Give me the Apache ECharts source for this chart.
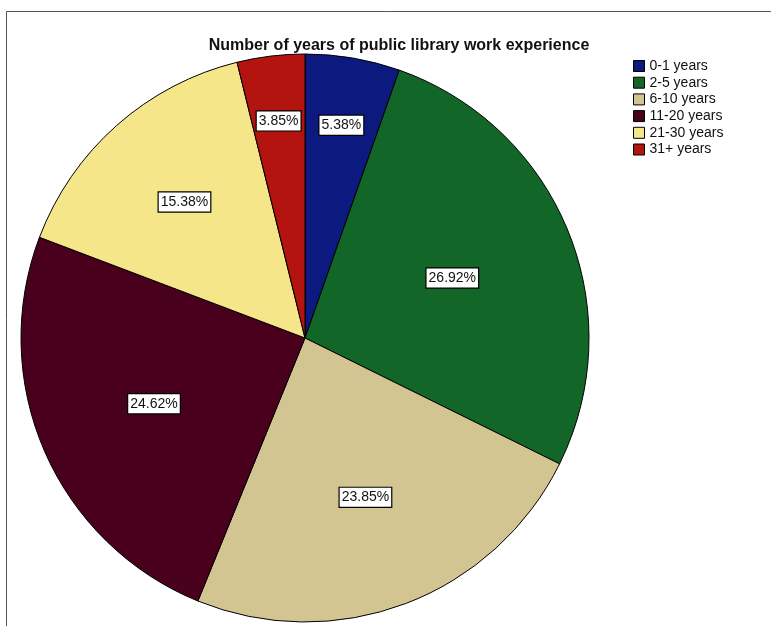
<!DOCTYPE html>
<html>
<head>
<meta charset="utf-8">
<script src="https://cdn.jsdelivr.net/npm/echarts@6/dist/echarts.min.js"></script>
<style>
html,body{margin:0;padding:0;background:#fff;}
#chart{width:771px;height:626px;}
</style>
</head>
<body>
<div id="chart"></div>
<script>
// ---- data ----
var titleText = 'Number of years of public library work experience';
var categories = ['0-1 years', '2-5 years', '6-10 years', '11-20 years', '21-30 years', '31+ years'];
var counts = [7, 35, 31, 32, 20, 5];
var percentLabels = ['5.38%', '26.92%', '23.85%', '24.62%', '15.38%', '3.85%'];

// ---- styling / layout ----
var colors = ['#0c1a80', '#116628', '#d3c592', '#48001c', '#f6e68a', '#b3140f'];
var cx = 305, cy = 338, R = 284;
var labelRadiusFactor = [0.76, 0.56, 0.60, 0.58, 0.64, 0.77];

var total = counts.reduce(function (a, b) { return a + b; }, 0);
var midAngles = [];
(function () {
  var cum = 0;
  for (var i = 0; i < counts.length; i++) {
    midAngles.push((cum + counts[i] / 2) / total * 2 * Math.PI);
    cum += counts[i];
  }
})();

var chart = echarts.init(document.getElementById('chart'), null, {renderer: 'canvas'});
var option = {
  animation: false,
  backgroundColor: '#ffffff',
  title: {
    text: titleText,
    left: 394,
    textAlign: 'center',
    top: 33,
    textStyle: {fontFamily: 'Liberation Sans, Arial, sans-serif', fontSize: 16, fontWeight: 'bold', color: '#111'}
  },
  legend: {
    orient: 'vertical',
    left: 628,
    top: 54,
    itemWidth: 11,
    itemHeight: 11,
    itemGap: 2.7,
    icon: 'rect',
    data: categories,
    textStyle: {fontFamily: 'Liberation Sans, Arial, sans-serif', fontSize: 14, lineHeight: 14, color: '#111'},
    itemStyle: {borderColor: '#000', borderWidth: 1}
  },
  graphic: [{
    type: 'rect',
    shape: {x: 6.5, y: 11.5, width: 900, height: 800},
    style: {fill: 'none', stroke: '#555', lineWidth: 1},
    silent: true
  }],
  series: [{
    type: 'pie',
    center: [cx, cy],
    radius: [0, R],
    startAngle: 90,
    clockwise: true,
    silent: true,
    data: categories.map(function (c, i) {
      return {name: c, value: counts[i], itemStyle: {color: colors[i]}};
    }),
    itemStyle: {borderColor: '#000', borderWidth: 1},
    label: {
      show: true,
      position: 'inside',
      formatter: function (p) { return percentLabels[p.dataIndex]; },
      fontFamily: 'Liberation Sans, Arial, sans-serif',
      fontSize: 14,
      color: '#111',
      backgroundColor: '#fff',
      borderColor: '#000',
      borderWidth: 1.2,
      padding: [3, 2, 2, 2]
    },
    labelLine: {show: false},
    labelLayout: function (p) {
      var i = p.dataIndex;
      var a = midAngles[i];
      var r = R * labelRadiusFactor[i];
      return {
        x: cx + r * Math.sin(a),
        y: cy - r * Math.cos(a),
        align: 'center',
        verticalAlign: 'middle'
      };
    }
  }]
};
chart.setOption(option);
</script>
</body>
</html>
